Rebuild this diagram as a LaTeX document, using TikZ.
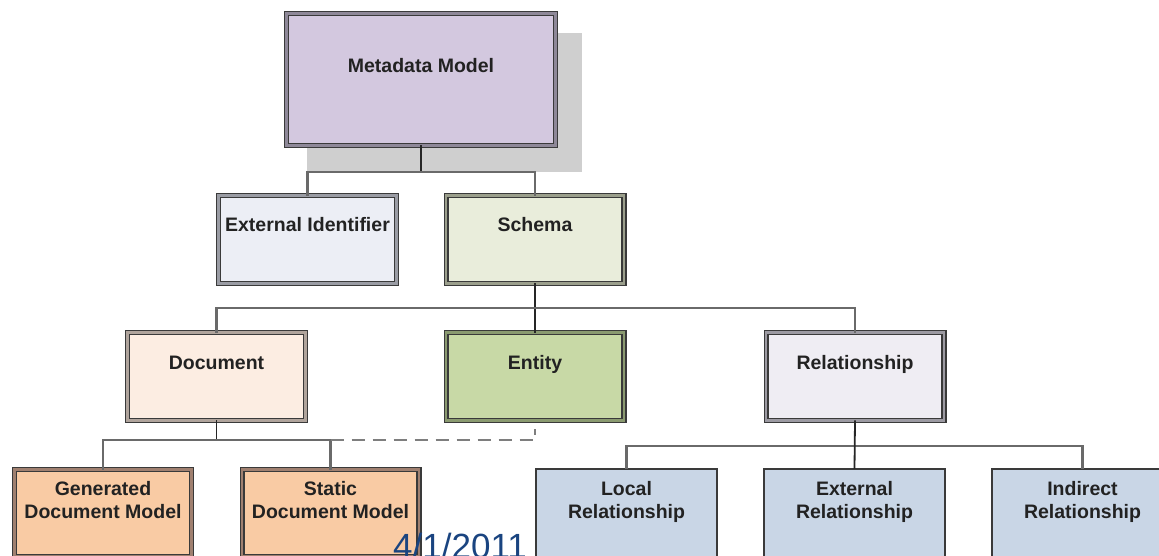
\documentclass[tikz,border=0pt]{standalone}
\usepackage{fontspec}
\setmainfont{Liberation Sans}
\definecolor{edge}{HTML}{3A3A3A}
\definecolor{shade}{HTML}{CFCFCF}
\definecolor{mmfill}{HTML}{D3C8DF}
\definecolor{mmband}{HTML}{8E8898}
\definecolor{extfill}{HTML}{ECEEF5}
\definecolor{extband}{HTML}{9A9CA4}
\definecolor{schfill}{HTML}{E9EDDB}
\definecolor{schband}{HTML}{9B9F8C}
\definecolor{docfill}{HTML}{FCEDE2}
\definecolor{docband}{HTML}{B0A49C}
\definecolor{entfill}{HTML}{C8D9A6}
\definecolor{entband}{HTML}{8A9A70}
\definecolor{relfill}{HTML}{EFEDF3}
\definecolor{relband}{HTML}{9C9AA2}
\definecolor{orgfill}{HTML}{F9CBA4}
\definecolor{orgband}{HTML}{A08070}
\definecolor{bluefill}{HTML}{C9D6E6}
\definecolor{barcol}{HTML}{6A6A6A}
\definecolor{dashcol}{HTML}{7E7E7E}
\definecolor{datecol}{HTML}{1A4480}
\definecolor{txt}{HTML}{222222}
\begin{document}
\begin{tikzpicture}[x=1pt,y=-1pt,
  dbox/.style 2 args={draw=edge, line width=1.4pt, double=#2, double distance=2.4pt,
    fill=#1, inner sep=0pt, outer sep=0pt},
  sbox/.style={draw=edge, line width=1.8pt, fill=bluefill, inner sep=0pt, outer sep=0pt,
    minimum width=181.2pt, minimum height=90.2pt},
  midsize/.style={minimum width=177.8pt, minimum height=87.8pt},
  leafsize/.style={minimum width=176.8pt, minimum height=86.8pt},
  lbl/.style={inner sep=0pt, text=txt, align=center,
    font=\fontsize{19.5}{23}\selectfont\bfseries},
  stub/.style={draw=black!85, line width=1.8pt},
  bar/.style={draw=barcol, line width=2.6pt},
  dashbar/.style={draw=dashcol, line width=2.6pt, dash pattern=on 13pt off 8pt},
]
\path[use as bounding box] (0,0) rectangle (1159,556);
\clip (0,0) rectangle (1159,556);

% top box with its drop shadow
\node[fill=shade, inner sep=0pt, minimum width=275pt, minimum height=139pt] (mmshadow) at (444.5,102.5) {};
\node[dbox={mmfill}{mmband}, minimum width=268.8pt, minimum height=131.8pt] (mm) at (421,79.5) {};
\node[lbl] (mmt) at (421,68.4) {\strut Metadata Model};

% second level
\node[dbox={extfill}{extband}, midsize] (ext) at (307.5,239.5) {};
\node[lbl] (extt) at (307.5,227.4) {\strut External Identifier};
\node[dbox={schfill}{schband}, midsize] (sch) at (535,239.5) {};
\node[lbl] (scht) at (535,227.4) {\strut Schema};

% third level
\node[dbox={docfill}{docband}, midsize] (doc) at (216.5,376.5) {};
\node[lbl] (doct) at (216.5,364.4) {\strut Document};
\node[dbox={entfill}{entband}, midsize] (ent) at (535,376.5) {};
\node[lbl] (entt) at (535,364.4) {\strut Entity};
\node[dbox={relfill}{relband}, midsize] (rel) at (855,376.5) {};
\node[lbl] (relt) at (855,364.4) {\strut Relationship};

% document models
\node[dbox={orgfill}{orgband}, leafsize] (gen) at (103,513) {};
\node[lbl] (gent) at (103,501.9) {\strut Generated\\\strut Document Model};
\node[dbox={orgfill}{orgband}, leafsize] (sdm) at (330.5,513) {};
\node[lbl] (sdmt) at (330.5,501.9) {\strut Static\\\strut Document Model};

% relationship kinds
\node[sbox] (loc) at (626.5,514) {};
\node[lbl] (loct) at (626.5,501.9) {\strut Local\\\strut Relationship};
\node[sbox] (extr) at (854.5,514) {};
\node[lbl] (extrt) at (854.5,501.9) {\strut External\\\strut Relationship};
\node[sbox] (ind) at (1082.5,514) {};
\node[lbl] (indt) at (1082.5,501.9) {\strut Indirect\\\strut Relationship};

% bar heights
\coordinate (b1) at (0,172);
\coordinate (b2) at (0,308);
\coordinate (b3) at (0,440);
\coordinate (b4) at (0,446);
\coordinate (tick) at (0,429);

% connectors
\draw[stub] (mm.south) -- (mm.south |- b1);
\draw[bar] (ext.north) |- (sch.north |- b1) -- (sch.north);

\draw[stub] (sch.south) -- (ent.north);
\draw[bar] (doc.north) |- (rel.north |- b2) -- (rel.north);

\draw[stub] (doc.south) -- (doc.south |- b3);
\draw[bar] (gen.north) |- (sdm.north |- b3) -- (sdm.north);
\draw[dashbar] (sdm.north |- b3) -- (ent.south |- b3) -- (ent.south |- tick);

\draw[bar] (loc.north) |- (ind.north |- b4) -- (ind.north);
\draw[stub] (rel.south) -- (extr.north);

% date
\node[anchor=base west, inner sep=0pt, text=datecol,
  font=\fontsize{35}{35}\selectfont] (date) at (393,558) {4/1/2011};
\end{tikzpicture}
\end{document}
